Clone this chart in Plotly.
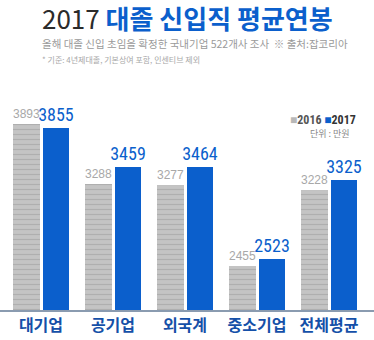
import plotly.graph_objects as go

categories = ["대기업", "공기업", "외국계", "중소기업", "전체평균"]
values_2016 = [3893, 3288, 3277, 2455, 3228]
values_2017 = [3855, 3459, 3464, 2523, 3325]

FONT = "Noto Sans CJK KR"
NARROW = "Liberation Sans Narrow, Arial Narrow, Roboto Condensed, sans-serif"
BLUE = "#0b5fcc"
x = list(range(len(categories)))

fig = go.Figure()
fig.add_trace(go.Bar(
    x=x, y=values_2016, name="2016",
    width=0.375, offset=-0.39,
    marker=dict(color="#c4c4c4", line=dict(width=0),
                pattern=dict(shape="-", fgcolor="#9a9a9a", bgcolor="#c4c4c4", size=5, solidity=0.25)),
    text=[str(v) for v in values_2016], textposition="outside", constraintext="none",
    textfont=dict(family="Liberation Sans, Arial, sans-serif", size=12, color="#a8a8a8"),
    cliponaxis=False,
))
fig.add_trace(go.Bar(
    x=x, y=values_2017, name="2017",
    width=0.37, offset=0.025,
    marker=dict(color=BLUE, line=dict(width=0)),
    text=[str(v) for v in values_2017], textposition="outside", constraintext="none",
    textfont=dict(family=NARROW, size=18, color=BLUE),
    cliponaxis=False,
))

fig.update_layout(
    width=374, height=340,
    margin=dict(l=0, r=0, t=102, b=30),
    paper_bgcolor="white", plot_bgcolor="white",
    showlegend=False,
    bargap=0, barmode="overlay",
    font=dict(family=FONT),
    xaxis=dict(range=[-0.569, 4.625], tickvals=x,
               ticktext=["<b>%s</b>" % c for c in categories],
               tickfont=dict(family=FONT, size=16, color="#1550a8"),
               showline=True, linecolor="#8a9bb0", linewidth=1.5,
               showgrid=False, zeroline=False, ticks="", ticklen=0, fixedrange=True),
    yaxis=dict(range=[2008, 4120], visible=False, showgrid=False, fixedrange=True),
)

annotations = [
    dict(text="<span style='color:#2b2b2b'>2017</span> <b><span style='color:#0b5fcc'>대졸 신입직 평균연봉</span></b>",
         x=0.5, y=1, xref="paper", yref="paper", xanchor="center", yanchor="middle",
         yshift=85, showarrow=False, font=dict(family=FONT, size=26)),
    dict(text="올해 대졸 신입 초임을 확정한 국내기업 522개사 조사  ※ 출처:잡코리아",
         x=40/374, y=1, xref="paper", yref="paper", xanchor="left", yanchor="middle",
         yshift=59, showarrow=False, font=dict(family=FONT, size=10.5, color="#9a9a9a")),
    dict(text="* 기준: 4년제대졸, 기본상여 포함, 인센티브 제외",
         x=40/374, y=1, xref="paper", yref="paper", xanchor="left", yanchor="middle",
         yshift=43, showarrow=False, font=dict(family=FONT, size=8, color="#a8a8a8")),
    dict(text="<span style='color:#b8b8b8'>■</span><span style='color:#555'>2016</span> <span style='color:#0b5fcc'>■</span><span style='color:#333'>2017</span>",
         x=1, y=1, xref="paper", yref="paper", xanchor="right", yanchor="middle",
         xshift=-16, yshift=-18, showarrow=False,
         font=dict(family=NARROW, size=12, weight="bold")),
    dict(text="단위 : 만원",
         x=1, y=1, xref="paper", yref="paper", xanchor="right", yanchor="middle",
         xshift=-22, yshift=-31, showarrow=False, font=dict(family=FONT, size=9, color="#888")),
]
fig.update_layout(annotations=annotations)

fig.write_html("out.html")
